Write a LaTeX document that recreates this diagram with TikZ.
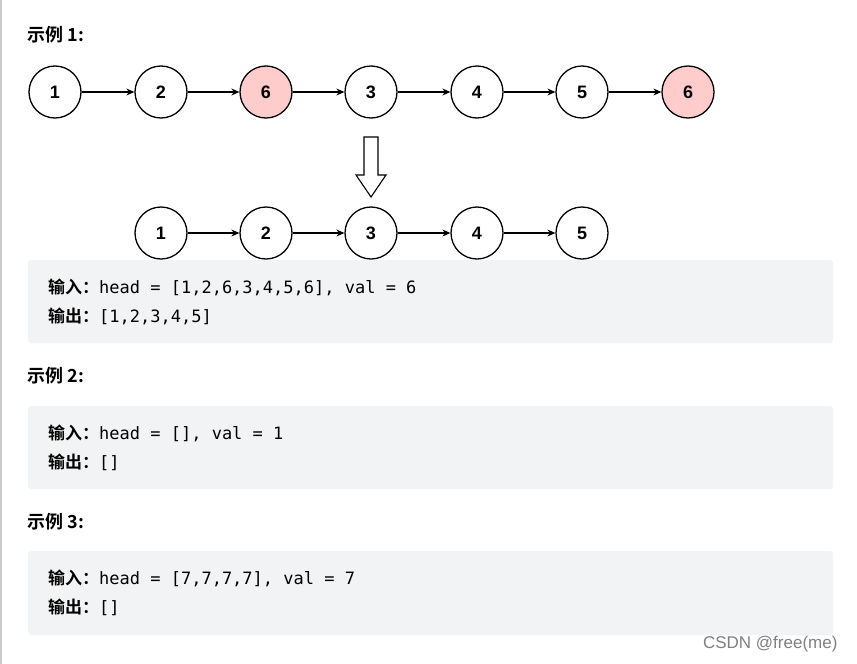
\documentclass[tikz,border=0pt]{standalone}
\usetikzlibrary{arrows.meta}
\usepackage{fontspec}
\setmainfont{Liberation Sans}
\newfontfamily\cjkb{Noto Sans CJK SC Bold}
\newfontfamily\mono{DejaVu Sans Mono}
\definecolor{boxgray}{HTML}{F2F3F5}
\begin{document}
\begin{tikzpicture}[x=1pt,y=-1pt,
  nd/.style={circle,draw,line width=1.3pt,minimum size=52pt,inner sep=0pt,font=\fontsize{18}{18}\selectfont\bfseries},
  red/.style={nd,fill=red!20},
  ar/.style={-{Stealth[length=8pt,width=7pt]},line width=1.1pt},
  box/.style={fill=boxgray,rounded corners=3pt,draw=none},
  ttl/.style={anchor=west,font=\fontsize{18}{18}\selectfont\cjkb},
  code/.style={anchor=west,font=\fontsize{17}{17}\selectfont\mono,inner sep=0pt}]
\useasboundingbox (0,0) rectangle (857,664);
\fill[white] (0,0) rectangle (857,664);
\fill[gray!40] (0,0) rectangle (2,664);
\node[ttl] (t1) at (24,35) {示例 1:};
\foreach \n/\x/\v/\s in {a1/55/1/nd,a2/161/2/nd,a3/266/6/red,a4/371/3/nd,a5/477/4/nd,a6/582/5/nd,a7/688/6/red}
  \node[\s] (\n) at (\x,92) {\v};
\foreach \p/\q in {a1/a2,a2/a3,a3/a4,a4/a5,a5/a6,a6/a7} \draw[ar] (\p) -- (\q);
\draw[line width=1.1pt,fill=white] (364,137) -- (378,137) -- (378,175) -- (386,175) -- (371,197) -- (356,175) -- (364,175) -- cycle;
\foreach \n/\x/\v in {b1/161/1,b2/266/2,b3/371/3,b4/477/4,b5/582/5}
  \node[nd] (\n) at (\x,233) {\v};
\foreach \p/\q in {b1/b2,b2/b3,b3/b4,b4/b5} \draw[ar] (\p) -- (\q);
\fill[box] (28,260) rectangle (833,343);
\node[code] (c1) at (48,287) {{\cjkb 输入：}head = [1,2,6,3,4,5,6], val = 6};
\node[code] (c2) at (48,316) {{\cjkb 输出：}[1,2,3,4,5]};
\node[ttl] (t2) at (24,376) {示例 2:};
\fill[box] (28,406) rectangle (833,489);
\node[code] (d1) at (48,433) {{\cjkb 输入：}head = [], val = 1};
\node[code] (d2) at (48,462) {{\cjkb 输出：}[]};
\node[ttl] (t3) at (24,522) {示例 3:};
\fill[box] (28,551) rectangle (833,635);
\node[code] (e1) at (48,578) {{\cjkb 输入：}head = [7,7,7,7], val = 7};
\node[code] (e2) at (48,607) {{\cjkb 输出：}[]};
\node[anchor=east,text=gray,font=\fontsize{17}{17}\selectfont] (w) at (841,644) {CSDN @free(me)};
\end{tikzpicture}
\end{document}
